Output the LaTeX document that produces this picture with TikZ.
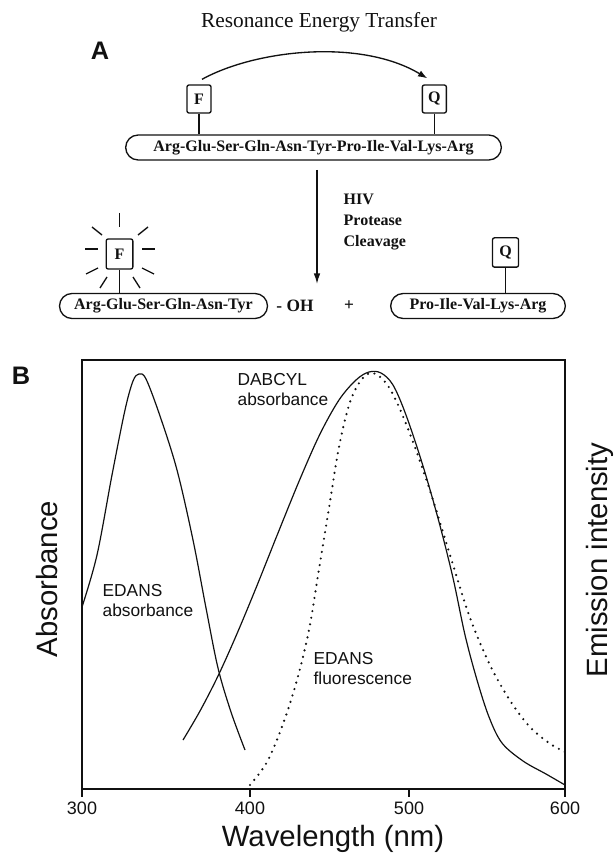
\documentclass[tikz,border=0pt]{standalone}
\usepackage{fontspec}
\setmainfont{Liberation Serif}
\setsansfont{Liberation Sans}
\usepackage{tikz}
\usetikzlibrary{positioning,shapes.misc,arrows.meta}
\definecolor{InkDark}{HTML}{111111}

\tikzset{
  probe/.style={draw, rounded corners=1.5pt, minimum width=18pt, minimum height=21pt, inner sep=0pt, font=\bfseries\fontsize{12}{14}\selectfont},
  peptide/.style={draw, rounded rectangle, minimum height=18.75pt, inner sep=2pt, font=\bfseries\fontsize{12}{14}\selectfont},
  panel/.style={font=\sffamily\bfseries\fontsize{19}{22}\selectfont},
  axislabel/.style={font=\sffamily\fontsize{22}{26}\selectfont},
  ticklabel/.style={font=\sffamily\fontsize{13.5}{16}\selectfont},
  curvelabel/.style={anchor=west, align=left, inner sep=0pt, font=\sffamily\fontsize{13}{15}\selectfont},
  emission/.style={dash pattern=on 0pt off 5pt, line cap=round, line width=1.8pt},
}

\begin{document}
\begin{tikzpicture}[x=0.75pt, y=-0.75pt, line width=1pt, color=InkDark]
        \useasboundingbox (0,0) rectangle (616,855);

        % A: intact substrate
        \node[font=\fontsize{16}{18}\selectfont] (title) at (319,22) {Resonance Energy Transfer};
        \node[panel] (lblA) at (100,51) {A};
        \node[peptide, minimum width=285.75pt] (pepA) at (313.5,147.5) {Arg-Glu-Ser-Gln-Asn-Tyr-Pro-Ile-Val-Lys-Arg};
        \node[probe] (fA) at (199,99) {F};
        \node[probe, right=157.5pt of fA] (qA) {Q};
        \draw (fA) -- (fA |- pepA.north);
        \draw (qA) -- (qA |- pepA.north);
        \draw[-{Latex[length=7pt,width=5pt]}] ([shift={(3,-5)}]fA.north) .. controls (255,50) and (360,38) .. ([shift={(-7,-6)}]qA.north);

        % cleavage step
        \coordinate (cutTop) at (317,170);
        \coordinate (cutEnd) at (317,284);
        \draw[-{Latex[length=8pt,width=5pt]}] (cutTop) -- (cutEnd);
        \node[anchor=west, align=left, inner sep=0pt, font=\bfseries\fontsize{12}{16}\selectfont] (hiv) at (343,222) {HIV\\Protease\\Cleavage};

        % products
        \node[peptide, minimum width=160pt] (pepL) at (163.5,306) {Arg-Glu-Ser-Gln-Asn-Tyr};
        \node[peptide, minimum width=135pt] (pepR) at (478,306) {Pro-Ile-Val-Lys-Arg};
        \node[font=\bfseries\fontsize{13}{15}\selectfont] (oh) at (295,306) {- OH};
        \node[font=\bfseries\fontsize{13}{15}\selectfont] (plus) at (349,306) {+};
        \node[probe, minimum width=20pt, minimum height=22.5pt] (fB) at (119.5,254) {F};
        \node[probe, minimum width=19.5pt, minimum height=22pt] (qB) at (505.5,252.5) {Q};
        \draw (fB) -- (fB |- pepL.north);
        \draw (qB) -- (qB |- pepR.north);
        \foreach \ax/\ay/\bx/\by in {0/-41/0/-27, -27.5/-27/-17.5/-19, 28.5/-27/18.5/-19,
            -34.5/-5/-21.5/-5, 22.5/-5/35.5/-5, -33.5/20/-21.5/14, 22.5/14/34.5/20,
            -19.5/34/-12.5/23, 13.5/23/20.5/34}
          \draw ([shift={(\ax,\ay)}]fB.center) -- ([shift={(\bx,\by)}]fB.center);

        % B: spectra
        \node[panel] (lblB) at (21,376) {B};
        \draw (82,360) rectangle (565,789);
        \foreach \tx/\tl in {82/300, 250/400, 409/500, 565/600} {
          \draw (\tx,789) -- (\tx,797);
          \node[ticklabel] (t\tl) at (\tx,808) {\tl};
        }
        \node[axislabel, anchor=base] (xlab) at (333,846) {Wavelength (nm)};
        \node[axislabel, rotate=90] (ylabL) at (47,579) {Absorbance};
        \node[axislabel, rotate=90] (ylabR) at (600,560) {Emission intensity};

        % EDANS absorbance
        \draw[line width=0.9pt] plot[smooth, tension=0.55] coordinates {(82,607) (97,555) (112,475) (125,410) (133,381) (139,374) (146,379) (160,416) (177,470) (193,540) (206,608) (218,668) (231,712) (245,750)};
        % DABCYL absorbance
        \draw[line width=0.9pt] plot[smooth, tension=0.55] coordinates {(183,740) (200,711) (218,676) (236,636) (256,588) (278,533) (300,479) (320,434) (339,400) (356,380) (369,372) (381,373) (393,385) (406,415) (423,466) (439,522) (453,578) (465,635) (477,680) (489,717) (502,743) (523,761) (546,774) (565,785)};
        % EDANS fluorescence
        \draw[emission] plot[smooth, tension=0.55] coordinates {(250,785) (267,762) (283,724) (297,680) (309,630) (319,569) (329,508) (339,447) (350,402) (362,379) (373,373) (386,383) (399,407) (416,450) (433,500) (450,555) (469,615) (489,663) (509,699) (529,726) (549,743) (565,752)};

        \node[curvelabel] (dabcyl) at (237,390) {DABCYL\\absorbance};
        \node[curvelabel] (edansAbs) at (102,601) {EDANS\\absorbance};
        \node[curvelabel] (edansFl) at (313,668.5) {EDANS\\fluorescence};
    \end{tikzpicture}
\end{document}
